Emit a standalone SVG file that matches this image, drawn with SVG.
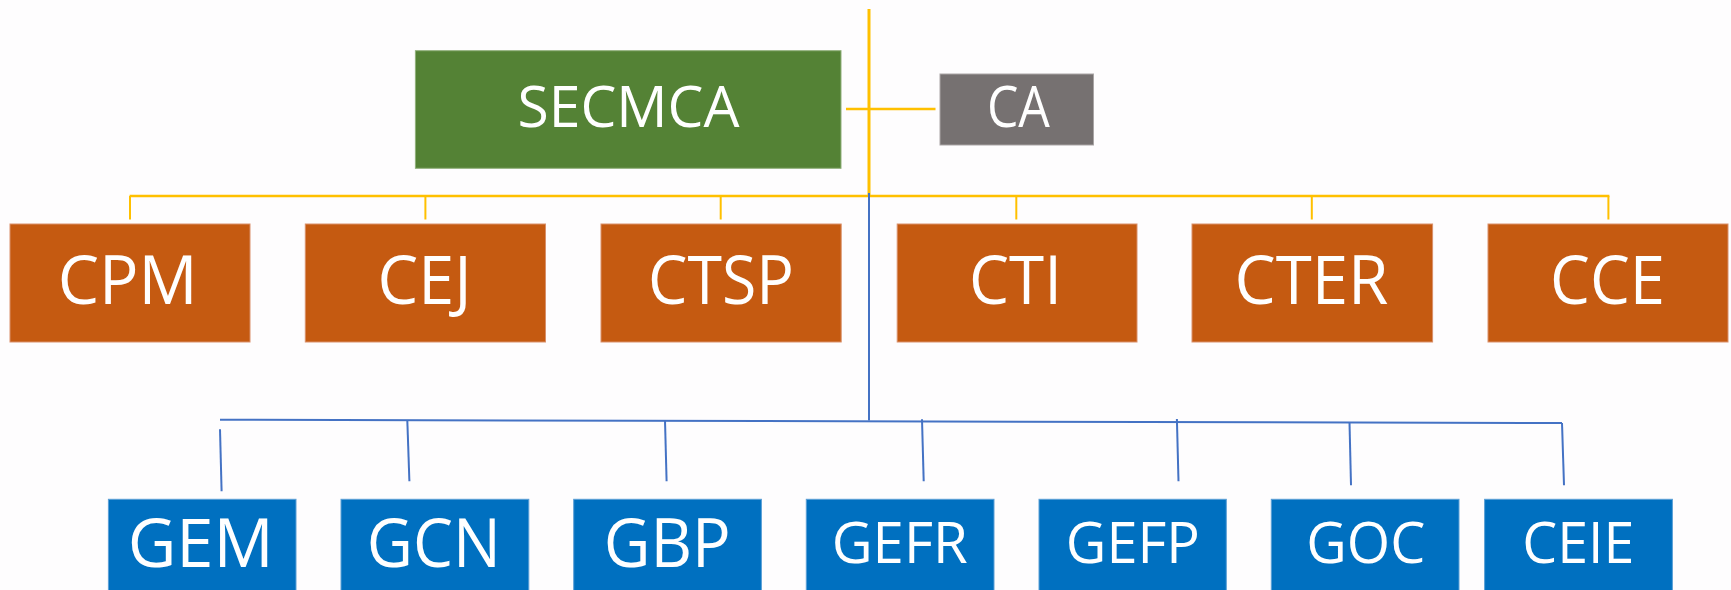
<svg xmlns="http://www.w3.org/2000/svg" width="1731" height="590" viewBox="0 0 1731 590">
<style>
  .bg{fill:#fefdfe}
  .green{fill:#548235;stroke:#8fb07a;stroke-width:1}
  .gray{fill:#767171;stroke:#a9a5a5;stroke-width:1}
  .orange{fill:#c55a11;stroke:#d9906a;stroke-width:1}
  .blue{fill:#0070c0;stroke:#5a9fd6;stroke-width:1}
  .t{font-family:"Open Sans","Noto Sans","Liberation Sans",sans-serif;fill:#ffffff;text-anchor:middle}
  .t1{font-size:56px}
  .t2{font-size:67px}
  .t3{font-size:56px}
  .y{stroke:#ffc000;fill:none}
  .b{stroke:#4472c4;fill:none;stroke-width:2}
</style>
<rect class="bg" x="0" y="0" width="1731" height="590"/>
<g id="connectors">
  <line class="y" x1="869" y1="9" x2="869" y2="196" stroke-width="3"/>
  <line class="y" x1="846" y1="109" x2="935.5" y2="109" stroke-width="2.5"/>
  <line class="y" x1="129.6" y1="196" x2="1609.4" y2="196" stroke-width="2.5"/>
  <line class="y" x1="130" y1="196" x2="130" y2="219.5" stroke-width="2"/>
  <line class="y" x1="425.4" y1="196" x2="425.4" y2="219.5" stroke-width="2"/>
  <line class="y" x1="720.7" y1="196" x2="720.7" y2="219.5" stroke-width="2"/>
  <line class="y" x1="1016.3" y1="196" x2="1016.3" y2="219.5" stroke-width="2"/>
  <line class="y" x1="1311.8" y1="196" x2="1311.8" y2="219.5" stroke-width="2"/>
  <line class="y" x1="1608.4" y1="196" x2="1608.4" y2="219.5" stroke-width="2"/>
  <line class="b" x1="869" y1="193" x2="869" y2="420.5" stroke-width="2.2"/>
  <line class="b" x1="220" y1="419.7" x2="1562" y2="423"/>
  <line class="b" x1="220" y1="429.3" x2="221.6" y2="491.3"/>
  <line class="b" x1="407.3" y1="420" x2="409.4" y2="481.3"/>
  <line class="b" x1="665" y1="420.5" x2="666.6" y2="481.3"/>
  <line class="b" x1="922" y1="419.3" x2="923.7" y2="481.3"/>
  <line class="b" x1="1176.9" y1="419" x2="1178.5" y2="481.3"/>
  <line class="b" x1="1349.5" y1="422.5" x2="1351" y2="485.3"/>
  <line class="b" x1="1562" y1="423" x2="1564" y2="485.3"/>
</g>
<g id="node-SECMCA">
  <rect class="green" x="415.4" y="50.7" width="425.6" height="117.6"/>
  <text class="t t1" x="628.5" y="127" textLength="222" lengthAdjust="spacingAndGlyphs">SECMCA</text>
</g>
<g id="node-CA">
  <rect class="gray" x="940" y="74" width="153.5" height="71"/>
  <text class="t t1" x="1018.4" y="126.7" textLength="63" lengthAdjust="spacingAndGlyphs">CA</text>
</g>
<g id="node-CPM">
  <rect class="orange" x="10" y="224" width="240" height="118"/>
  <text class="t t2" x="127.7" y="304" textLength="140" lengthAdjust="spacingAndGlyphs">CPM</text>
</g>
<g id="node-CEJ">
  <rect class="orange" x="305.3" y="224" width="240.2" height="118"/>
  <text class="t t2" x="424.5" y="304" textLength="94" lengthAdjust="spacingAndGlyphs">CEJ</text>
</g>
<g id="node-CTSP">
  <rect class="orange" x="601" y="224" width="240.2" height="118"/>
  <text class="t t2" x="721" y="304" textLength="146" lengthAdjust="spacingAndGlyphs">CTSP</text>
</g>
<g id="node-CTI">
  <rect class="orange" x="897.2" y="224" width="239.8" height="118"/>
  <text class="t t2" x="1015.5" y="304" textLength="93" lengthAdjust="spacingAndGlyphs">CTI</text>
</g>
<g id="node-CTER">
  <rect class="orange" x="1192" y="224" width="240.6" height="118"/>
  <text class="t t2" x="1311.5" y="304" textLength="154" lengthAdjust="spacingAndGlyphs">CTER</text>
</g>
<g id="node-CCE">
  <rect class="orange" x="1488" y="224" width="240" height="118"/>
  <text class="t t2" x="1607.5" y="304" textLength="115" lengthAdjust="spacingAndGlyphs">CCE</text>
</g>
<g id="node-GEM">
  <rect class="blue" x="108.4" y="499.3" width="187.6" height="92"/>
  <text class="t t2" x="200.7" y="566.7" textLength="146" lengthAdjust="spacingAndGlyphs">GEM</text>
</g>
<g id="node-GCN">
  <rect class="blue" x="341" y="499.3" width="187.8" height="92"/>
  <text class="t t2" x="433.8" y="566.7" textLength="134" lengthAdjust="spacingAndGlyphs">GCN</text>
</g>
<g id="node-GBP">
  <rect class="blue" x="573.7" y="499.3" width="187.7" height="92"/>
  <text class="t t2" x="667.3" y="566.7" textLength="127" lengthAdjust="spacingAndGlyphs">GBP</text>
</g>
<g id="node-GEFR">
  <rect class="blue" x="806.3" y="499.3" width="187.7" height="92"/>
  <text class="t t3" x="899.7" y="563.3" textLength="136" lengthAdjust="spacingAndGlyphs">GEFR</text>
</g>
<g id="node-GEFP">
  <rect class="blue" x="1039" y="499.3" width="187.3" height="92"/>
  <text class="t t3" x="1132.8" y="563.3" textLength="134" lengthAdjust="spacingAndGlyphs">GEFP</text>
</g>
<g id="node-GOC">
  <rect class="blue" x="1271.3" y="499.3" width="187.7" height="92"/>
  <text class="t t3" x="1365.8" y="563.3" textLength="119" lengthAdjust="spacingAndGlyphs">GOC</text>
</g>
<g id="node-CEIE">
  <rect class="blue" x="1484.6" y="499.3" width="187.8" height="92"/>
  <text class="t t3" x="1578.3" y="563.3" textLength="112" lengthAdjust="spacingAndGlyphs">CEIE</text>
</g>
</svg>
